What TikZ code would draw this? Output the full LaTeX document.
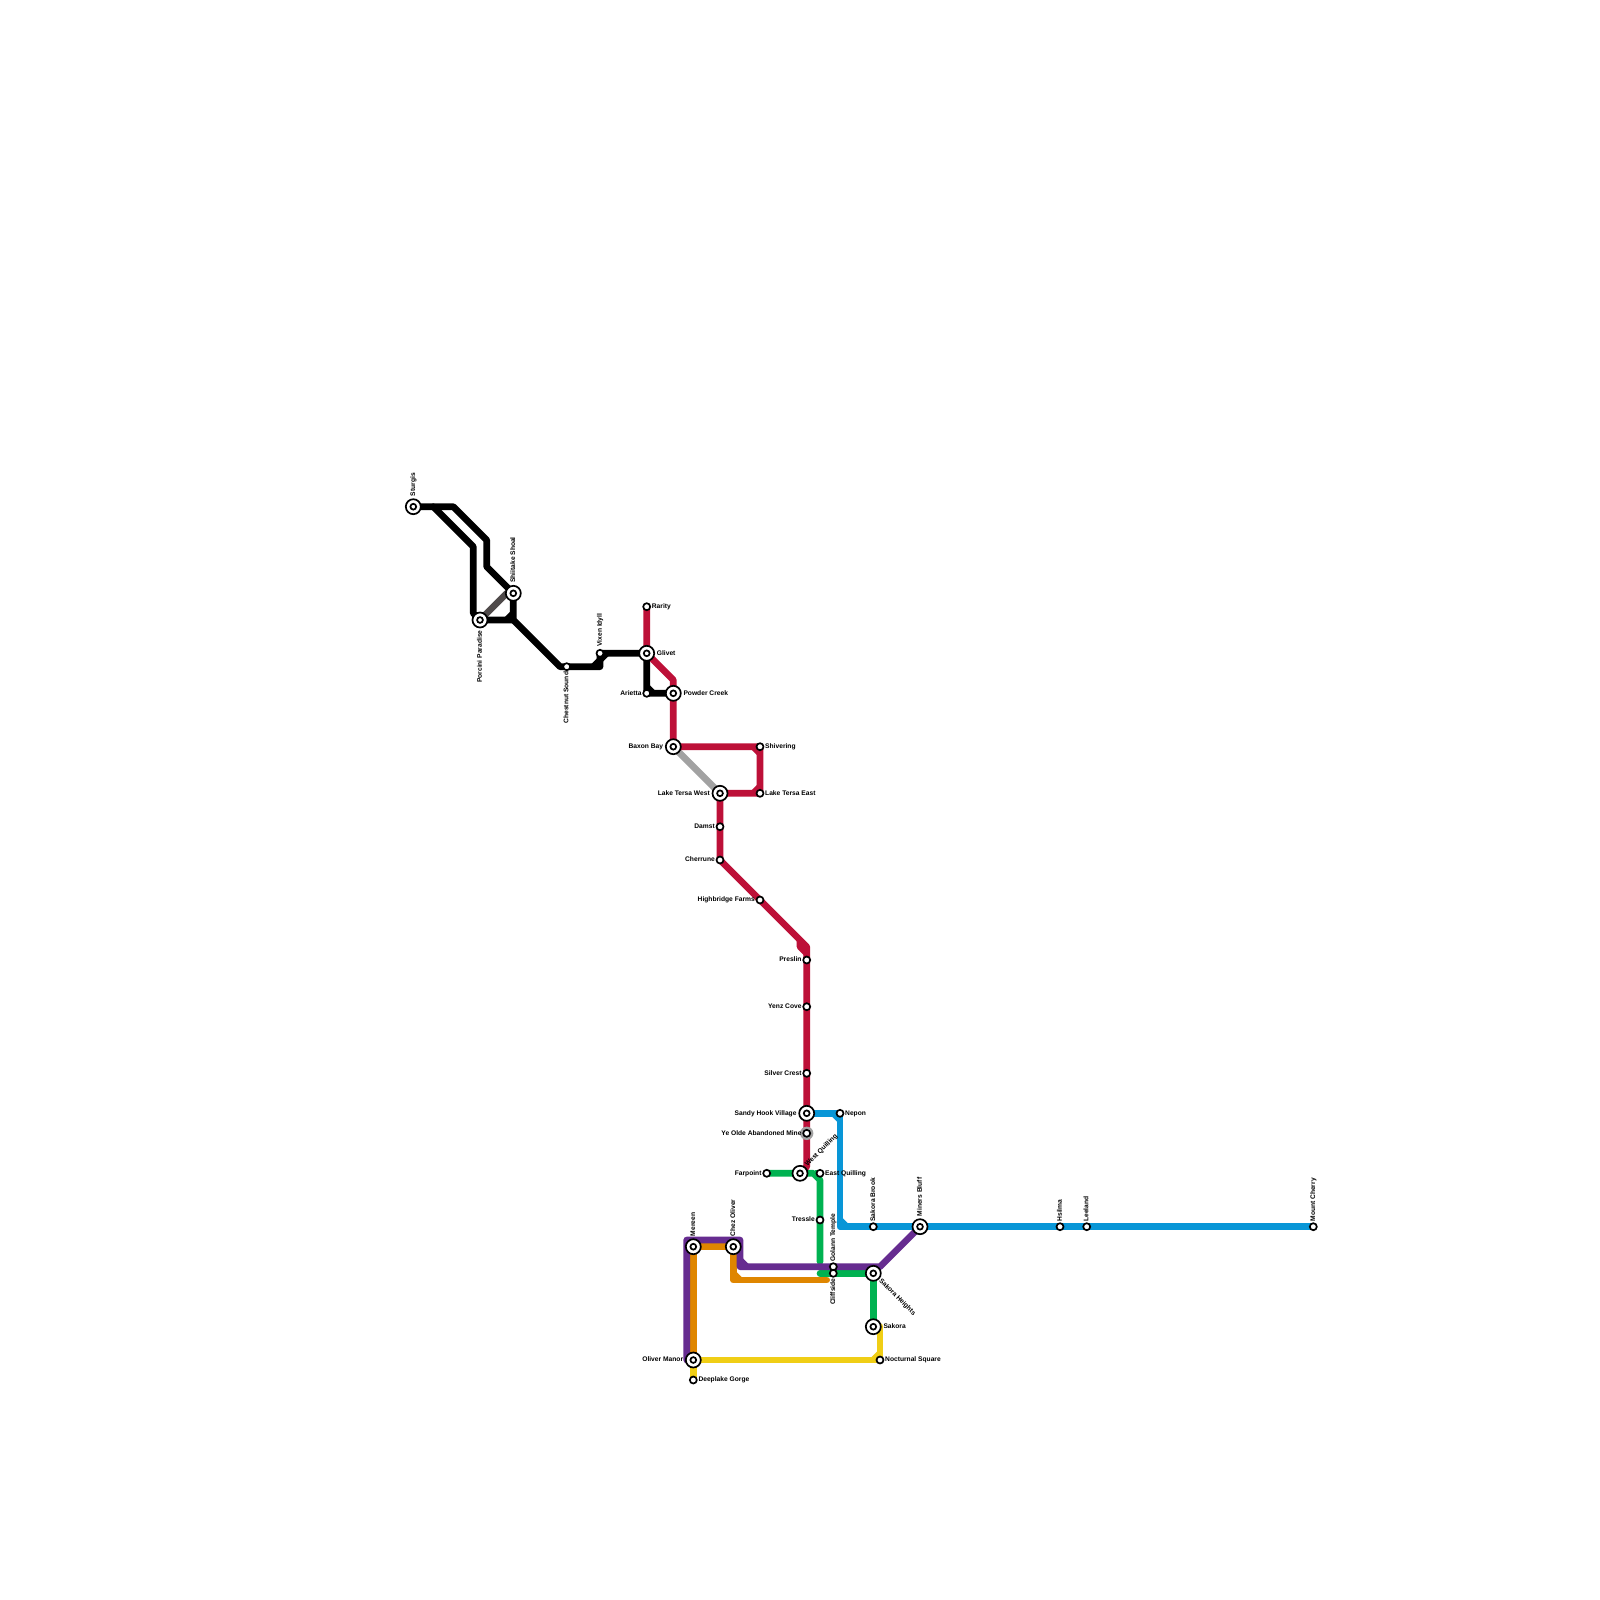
\documentclass[tikz,border=0pt]{standalone}
\usepackage{fontspec}
\setmainfont{Liberation Sans}
\pgfdeclarelayer{lines}
\pgfsetlayers{lines,main}
\definecolor{cred}{HTML}{BD1038}
\definecolor{cgreen}{HTML}{00B251}
\definecolor{cblue}{HTML}{0896D7}
\definecolor{cpurple}{HTML}{662C90}
\definecolor{corange}{HTML}{DF8600}
\definecolor{cyellow}{HTML}{F0CE15}
\definecolor{cgrey}{HTML}{A2A2A2}
\definecolor{cdark}{HTML}{4F4A4A}
\tikzset{
  metro/.style={line width=6.67pt,line cap=round,line join=round},
  stn/.style={circle,draw=black,fill=white,line width=1.7pt,minimum size=7pt,inner sep=0pt},
  hub/.style={circle,draw=black,fill=white,line width=1.7pt,minimum size=15pt,inner sep=0pt,
    path picture={\draw[black,line width=1.7pt,fill=white] (path picture bounding box.center) circle (2.9pt);}},
  lbl/.style={font=\bfseries\fontsize{6.67}{8}\selectfont,inner sep=0pt,text height=4.9pt,text depth=1.4pt,text=black},
  lr/.style={lbl,anchor=west,xshift=5pt},
  ll/.style={lbl,anchor=east,xshift=-5pt},
  lu/.style={lbl,yshift=5pt,rotate=90,anchor=west},
  ld/.style={lbl,yshift=-5pt,rotate=90,anchor=east},
  lR/.style={lbl,anchor=west,xshift=10pt},
  lL/.style={lbl,anchor=east,xshift=-10pt},
  lU/.style={lbl,yshift=10.3pt,rotate=90,anchor=west},
  lD/.style={lbl,yshift=-10.3pt,rotate=90,anchor=east},
}
\begin{document}
\begin{tikzpicture}[x=1pt,y=-1pt]
\useasboundingbox (0,0) rectangle (1600,1600);
% stations
\node[hub] (sturgis) at (413.3,506.7) {};
\node[hub] (shiitake) at (513.3,593.3) {};
\node[hub] (porcini) at (480,620) {};
\node[stn] (chestnut) at (566.7,666.7) {};
\node[stn] (vixen) at (600,653.3) {};
\node[stn] (rarity) at (646.7,606.7) {};
\node[hub] (glivet) at (646.7,653.3) {};
\node[stn] (arietta) at (646.7,693.3) {};
\node[hub] (powder) at (673.3,693.3) {};
\node[hub] (baxon) at (673.3,746.7) {};
\node[stn] (shivering) at (760,746.7) {};
\node[hub] (tersaw) at (720,793.3) {};
\node[stn] (tersae) at (760,793.3) {};
\node[stn] (damst) at (720,826.7) {};
\node[stn] (cherrune) at (720,860) {};
\node[stn] (highbridge) at (760,900) {};
\node[stn] (preslin) at (806.7,960) {};
\node[stn] (yenz) at (806.7,1006.7) {};
\node[stn] (silver) at (806.7,1073.3) {};
\node[hub] (sandy) at (806.7,1113.3) {};
\node[stn] (yeolde) at (806.7,1133.3) {};
\node[hub] (westq) at (800,1173.3) {};
\node[stn] (farpoint) at (766.7,1173.3) {};
\node[stn] (eastq) at (820,1173.3) {};
\node[stn] (nepon) at (840,1113.3) {};
\node[stn] (tressle) at (820,1220) {};
\node[stn] (sbrook) at (873.3,1226.7) {};
\node[hub] (miners) at (920,1226.7) {};
\node[stn] (hsilma) at (1060,1226.7) {};
\node[stn] (leeland) at (1086.7,1226.7) {};
\node[stn] (cherry) at (1313.3,1226.7) {};
\node[stn] (golann) at (833.3,1266.7) {};
\node[stn] (cliffside) at (833.3,1273.3) {};
\node[hub] (sheights) at (873.3,1273.3) {};
\node[hub] (sakora) at (873.3,1326.7) {};
\node[stn] (nocturnal) at (880,1360) {};
\node[hub] (mereen) at (693.3,1246.7) {};
\node[hub] (chez) at (733.3,1246.7) {};
\node[hub] (oliver) at (693.3,1360) {};
\node[stn] (deeplake) at (693.3,1380) {};
% free ends
\coordinate (gend1) at (820,1261.7);
\coordinate (gend2) at (820,1273.3);
\coordinate (oend) at (826.7,1280);
\begin{pgfonlayer}{lines}
\fill[white] (0,0) rectangle (1600,1600);
% green
\draw[metro,cgreen] (farpoint.center) -- (westq.center) -- (813.3,1173.3) -- (820,1180) -- (tressle.center) -- (gend1);
\draw[metro,cgreen,line cap=butt] (eastq.center) -- (815,1173.3);
\draw[metro,cgreen] (gend2) -- (cliffside.center) -- (sheights.center) -- (sakora.center);
% yellow
\draw[metro,cyellow] (deeplake.center) -- (oliver.center) -- (nocturnal.center) -- (880,1326.7) -- (sakora.center);
\draw[metro,cyellow,line cap=butt] (873.3,1360) -- (880,1353.3);
% orange
\draw[metro,corange] (oliver.center) -- (mereen.center) -- (chez.center) -- (733.3,1280) -- (oend);
\draw[metro,corange,line cap=butt] (733.3,1273.3) -- (740,1280);
% purple
\draw[metro,cpurple] (oliver.center) -- (686.7,1360) -- (686.7,1240) -- (740,1240) -- (740,1266.7) -- (880,1266.7) -- (miners.center);
\draw[metro,cpurple,line cap=butt] (740,1260) -- (746.7,1266.7);
% blue
\draw[metro,cblue] (sandy.center) -- (nepon.center) -- (840,1226.7) -- (sbrook.center) -- (miners.center) -- (hsilma.center) -- (leeland.center) -- (cherry.center);
\draw[metro,cblue,line cap=butt] (833.3,1113.3) -- (840,1120) (840,1220) -- (846.7,1226.7);
% greys
\draw[metro,cgrey] (baxon.center) -- (tersaw.center);
\draw[metro,cdark] (porcini.center) -- (506.7,593.3) -- (shiitake.center);
% black
\draw[metro,black] (sturgis.center) -- (453.3,506.7) -- (486.7,540) -- (486.7,566.7) -- (shiitake.center) -- (513.3,620) -- (560,666.7) -- (chestnut.center) -- (600,666.7) -- (vixen.center) -- (glivet.center) -- (arietta.center) -- (powder.center);
\draw[metro,black] (433.3,506.7) -- (473.3,546.7) -- (473.3,613.3) -- (porcini.center) -- (513.3,620);
\draw[metro,black,line cap=butt] (506.7,620) -- (513.3,613.3) (593.3,666.7) -- (600,660) (600,660) -- (606.7,653.3) (646.7,686.7) -- (653.3,693.3);
% red
\draw[metro,cred] (rarity.center) -- (glivet.center) -- (673.3,680) -- (powder.center) -- (baxon.center) -- (shivering.center) -- (tersae.center) -- (tersaw.center) -- (damst.center) -- (cherrune.center) -- (highbridge.center) -- (806.7,946.7) -- (preslin.center) -- (yenz.center) -- (silver.center) -- (sandy.center) -- (yeolde.center) -- (806.7,1166.7) -- (westq.center);
\draw[metro,cred,line cap=butt] (753.3,746.7) -- (760,753.3) (753.3,793.3) -- (760,786.7);
\draw[metro,cred,line cap=butt] (800,940) -- (800,946.7) -- (806.7,953.3);
\fill[cgrey] (yeolde.center) circle (6.7pt);
\end{pgfonlayer}
% labels
\node[lU] (t1) at (sturgis) {Sturgis};
\node[lU] (t2) at (shiitake) {Shiitake Shoal};
\node[lD] (t3) at (porcini) {Porcini Paradise};
\node[ld] (t4) at (chestnut) {Chestnut Sound};
\node[lbl,yshift=6.6pt,rotate=90,anchor=west] (t5) at (vixen) {Vixen Idyll};
\node[lr] (t6) at (rarity) {Rarity};
\node[lR] (t7) at (glivet) {Glivet};
\node[ll] (t8) at (arietta) {Arietta};
\node[lR] (t9) at (powder) {Powder Creek};
\node[lL] (t10) at (baxon) {Baxon Bay};
\node[lr] (t11) at (shivering) {Shivering};
\node[lL] (t12) at (tersaw) {Lake Tersa West};
\node[lr] (t13) at (tersae) {Lake Tersa East};
\node[ll] (t14) at (damst) {Damst};
\node[ll] (t15) at (cherrune) {Cherrune};
\node[ll] (t16) at (highbridge) {Highbridge Farms};
\node[ll] (t17) at (preslin) {Preslin};
\node[ll] (t18) at (yenz) {Yenz Cove};
\node[ll] (t19) at (silver) {Silver Crest};
\node[lL] (t20) at (sandy) {Sandy Hook Village};
\node[ll] (t21) at (yeolde) {Ye Olde Abandoned Mine};
\node[lbl,xshift=6.2pt,yshift=7.6pt,rotate=45,anchor=west] (t22) at (westq) {West Quilling};
\node[ll] (t23) at (farpoint) {Farpoint};
\node[lr] (t24) at (eastq) {East Quilling};
\node[lr] (t25) at (nepon) {Nepon};
\node[ll] (t26) at (tressle) {Tressle};
\node[lu] (t27) at (sbrook) {Sakora Brook};
\node[lU] (t28) at (miners) {Miners Bluff};
\node[lu] (t29) at (hsilma) {Hsilma};
\node[lu] (t30) at (leeland) {Leeland};
\node[lu] (t31) at (cherry) {Mount Cherry};
\node[lu] (t32) at (golann) {Golann Temple};
\node[ld] (t33) at (cliffside) {Cliffside};
\node[lbl,xshift=6.7pt,yshift=-6.7pt,rotate=-45,anchor=west] (t34) at (sheights) {Sakora Heights};
\node[lR] (t35) at (sakora) {Sakora};
\node[lr] (t36) at (nocturnal) {Nocturnal Square};
\node[lU] (t37) at (mereen) {Mereen};
\node[lU] (t38) at (chez) {Chez Oliver};
\node[lL] (t39) at (oliver) {Oliver Manor};
\node[lr] (t40) at (deeplake) {Deeplake Gorge};
\end{tikzpicture}
\end{document}
